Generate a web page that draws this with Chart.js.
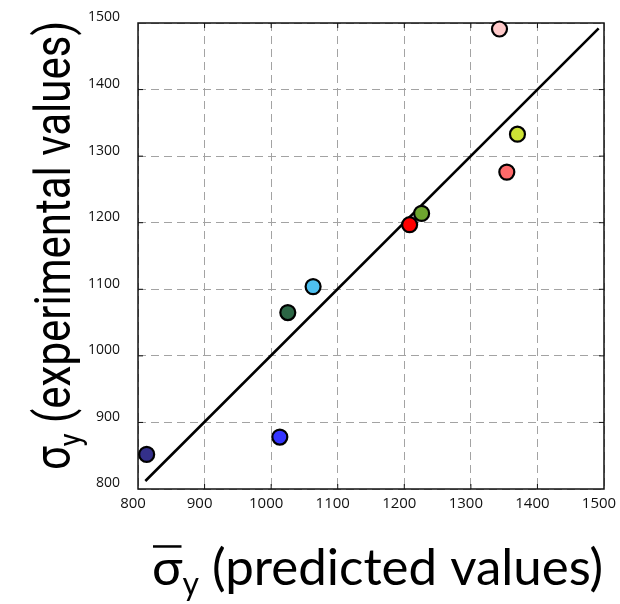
<!DOCTYPE html>
<html>
<head>
<meta charset="utf-8">
<title>Yield stress: predicted vs experimental</title>
<script src="https://cdn.jsdelivr.net/npm/chart.js@4.4.1/dist/chart.umd.min.js"></script>
<style>
  html, body { margin: 0; padding: 0; background: #fff; }
  canvas { display: block; }
</style>
</head>
<body>
<canvas id="scatterChart" width="620" height="604"></canvas>
<script>
// predicted vs measured yield stress, one colour per alloy
const predicted    = [813, 1013, 1025, 1063, 1226, 1208, 1354, 1370, 1343];
const experimental = [852, 878, 1065, 1104, 1214, 1197, 1276, 1333, 1491];
const pointColors  = ['#34308a', '#3434ff', '#2c6645', '#4ec0f0', '#6ea52f', '#ff0000', '#ff6a6a', '#cde335', '#ffcaca'];

// y = x guide line
const idealX = [811, 1492];
const idealY = [812, 1492];

const xTicks = [800, 900, 1000, 1100, 1200, 1300, 1400, 1500];
const yTicks = [800, 900, 1000, 1100, 1200, 1300, 1400, 1500];

// solid box round the plot plus short inward tick marks
const framePlugin = {
    id: 'frame',
    beforeDatasetsDraw(chart) {
        const { ctx, chartArea: a, scales } = chart;
        ctx.save();
        ctx.strokeStyle = '#111';
        ctx.lineWidth = 1.5;
        ctx.strokeRect(a.left, a.top, a.right - a.left, a.bottom - a.top);
        ctx.lineWidth = 1;
        ctx.beginPath();
        const tick = 5;
        xTicks.slice(1, -1).forEach(v => {
            const px = scales.x.getPixelForValue(v);
            ctx.moveTo(px, a.bottom); ctx.lineTo(px, a.bottom - tick);
            ctx.moveTo(px, a.top); ctx.lineTo(px, a.top + tick);
        });
        yTicks.slice(1, -1).forEach(v => {
            const py = scales.y.getPixelForValue(v);
            ctx.moveTo(a.left, py); ctx.lineTo(a.left + tick, py);
            ctx.moveTo(a.right, py); ctx.lineTo(a.right - tick, py);
        });
        ctx.stroke();
        ctx.restore();
    }
};

// draws a run of text pieces, each with its own size and baseline shift
function drawPieces(ctx, pieces, family, x, y) {
    let cx = x;
    pieces.forEach(p => {
        ctx.font = `${p.size}px ${family}`;
        const w = ctx.measureText(p.text).width;
        ctx.fillText(p.text, cx, y + (p.dy || 0));
        if (p.overline) {
            ctx.fillRect(cx + 1, y - p.size * 0.78, w - 2, 2.5);
        }
        cx += w;
    });
}

// axis titles with sigma and subscript y
const titlePlugin = {
    id: 'axisTitles',
    afterDraw(chart) {
        const { ctx } = chart;
        ctx.save();
        ctx.fillStyle = '#000';
        ctx.textBaseline = 'alphabetic';
        ctx.textAlign = 'left';

        const xPieces = [
            { text: 'σ', size: 51, overline: true },
            { text: 'y', size: 32, dy: 10 },
            { text: ' (predicted values)', size: 51 }
        ];
        drawPieces(ctx, xPieces, 'Lato', 152, 585);

        // the vertical title is a tall, narrow face: squeeze along its length
        const yPieces = [
            { text: 'σ', size: 50 },
            { text: 'y', size: 32, dy: 11 },
            { text: ' (experimental values)', size: 50 }
        ];
        ctx.translate(70, 470);
        ctx.rotate(-Math.PI / 2);
        ctx.scale(0.84, 1);
        drawPieces(ctx, yPieces, 'Roboto', 0, 0);
        ctx.restore();
    }
};

function fixedTicks(values) {
    return scale => { scale.ticks = values.map(v => ({ value: v })); };
}

// keep the plot box where it is; labels may hang over the edges
function noEdgePadding(scale) {
    scale.paddingLeft = 0;
    scale.paddingRight = 0;
    scale.paddingTop = 0;
    scale.paddingBottom = 0;
}

const plainNumber = v => String(v);

const ctx = document.getElementById('scatterChart').getContext('2d');
new Chart(ctx, {
    type: 'scatter',
    data: {
        datasets: [
            {
                data: predicted.map((x, i) => ({ x, y: experimental[i] })),
                backgroundColor: pointColors,
                borderColor: '#000',
                borderWidth: 2.2,
                pointRadius: 7.5,
                pointHoverRadius: 7.5,
                clip: false,
                order: 1
            },
            {
                type: 'line',
                data: idealX.map((x, i) => ({ x, y: idealY[i] })),
                borderColor: '#000',
                borderWidth: 2.6,
                pointRadius: 0,
                fill: false,
                order: 2
            }
        ]
    },
    options: {
        responsive: false,
        animation: false,
        layout: { padding: { left: 70, right: 16, top: 23, bottom: 85 } },
        plugins: { legend: { display: false }, tooltip: { enabled: false } },
        scales: {
            x: {
                type: 'linear',
                min: 800, max: 1500,
                afterBuildTicks: fixedTicks(xTicks),
                afterFit: noEdgePadding,
                ticks: {
                    font: { family: 'Open Sans', size: 15 },
                    color: '#111',
                    padding: 6,
                    labelOffset: -5,
                    maxRotation: 0,
                    autoSkip: false,
                    callback: plainNumber
                },
                grid: { color: '#a3a3a3', lineWidth: 1, drawTicks: false },
                border: { display: false, dash: [8, 5] }
            },
            y: {
                type: 'linear',
                min: 800, max: 1500,
                afterBuildTicks: fixedTicks(yTicks),
                afterFit: noEdgePadding,
                ticks: {
                    font: { family: 'Open Sans', size: 14 },
                    color: '#111',
                    padding: 18,
                    labelOffset: -5.5,
                    autoSkip: false,
                    callback: plainNumber
                },
                grid: { color: '#a3a3a3', lineWidth: 1, drawTicks: false },
                border: { display: false, dash: [8, 5] }
            }
        }
    },
    plugins: [framePlugin, titlePlugin]
});
</script>
</body>
</html>
